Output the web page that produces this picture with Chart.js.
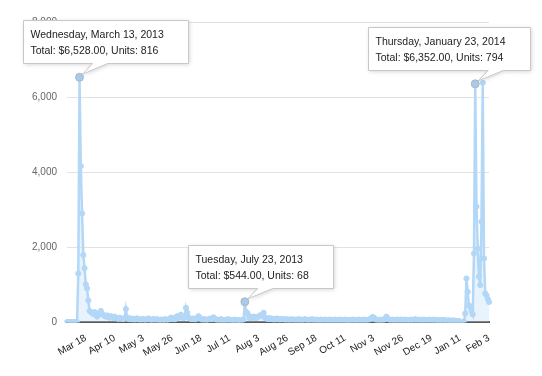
<!DOCTYPE html>
<html>
<head>
<meta charset="utf-8">
<script src="https://cdn.jsdelivr.net/npm/chart.js@4.4.1/dist/chart.umd.min.js"></script>
<style>
  body { margin: 0; background: #fff; }
</style>
</head>
<body>
<canvas id="myChart" width="542" height="376"></canvas>
<script>
// daily sales, Mar 3 2013 .. Feb 3 2014
const startDay = [2013, 2, 3];
const salesMar = [0, 0, 0, 0, 0, 0, 0, 0, 0, 1300, 6528, 4160, 2900, 1790, 1440, 1010, 900, 580, 300, 270, 250, 220, 270, 190, 150, 200, 250, 300, 220];
const salesApr = [190, 170, 150, 180, 140, 120, 160, 130, 110, 150, 120, 100, 90, 120, 100, 90, 80, 110, 350, 130, 90, 80, 100, 70, 90, 60, 80, 100, 70, 60];
const salesMay = [80, 60, 90, 70, 50, 80, 100, 70, 60, 50, 90, 70, 60, 80, 50, 60, 70, 40, 60, 80, 50, 70, 60, 90, 120, 80, 100, 70, 130, 160, 120];
const salesJun = [150, 200, 130, 110, 140, 380, 250, 130, 100, 90, 80, 100, 70, 90, 110, 160, 120, 90, 60, 70, 80, 50, 60, 80, 90, 70, 110, 130, 90, 60];
const salesJul = [70, 50, 60, 80, 60, 40, 50, 70, 60, 80, 50, 40, 60, 50, 70, 40, 50, 60, 50, 40, 60, 70, 544, 275, 240, 180, 107, 140, 120, 150, 140];
const salesAug = [110, 130, 150, 180, 180, 200, 250, 120, 100, 90, 110, 80, 100, 70, 90, 60, 80, 100, 70, 60, 80, 90, 70, 60, 80, 50, 70, 60, 80, 60, 70];
const salesSep = [60, 70, 50, 80, 60, 70, 50, 60, 80, 70, 60, 50, 70, 60, 80, 60, 50, 70, 60, 50, 60, 70, 50, 60, 70, 60, 50, 60, 70, 50];
const salesOct = [60, 50, 70, 60, 50, 60, 70, 50, 60, 50, 70, 60, 50, 60, 40, 60, 70, 50, 60, 50, 60, 70, 50, 60, 50, 70, 60, 50, 60, 70, 80];
const salesNov = [100, 140, 120, 80, 60, 70, 50, 60, 70, 50, 60, 90, 150, 110, 70, 60, 50, 70, 60, 50, 60, 70, 50, 60, 70, 50, 60, 70, 50, 60];
const salesDec = [60, 50, 70, 60, 50, 80, 60, 50, 70, 60, 50, 60, 70, 50, 60, 50, 70, 60, 50, 60, 70, 50, 60, 50, 40, 60, 50, 40, 60, 50, 40];
const salesJan = [40, 50, 30, 40, 50, 30, 40, 30, 20, 30, 10, 0, 0, 20, 230, 1165, 810, 450, 410, 300, 210, 1830, 6352, 3080, 1960, 1210, 990, 2680, 6380, 1700, 765];
const salesFeb = [720, 620, 540];

const sales = [].concat(salesMar, salesApr, salesMay, salesJun, salesJul, salesAug,
    salesSep, salesOct, salesNov, salesDec, salesJan, salesFeb);

const tickLabels = ['Mar 18', 'Apr 10', 'May 3', 'May 26', 'Jun 18', 'Jul 11', 'Aug 3', 'Aug 26',
    'Sep 18', 'Oct 11', 'Nov 3', 'Nov 26', 'Dec 19', 'Jan 11', 'Feb 3'];

// the three open tooltips
const tipIndex = [10, 142, 326];
const tipUnits = [816, 68, 794];

const dayDates = sales.map((v, i) => new Date(Date.UTC(startDay[0], startDay[1], startDay[2] + i)));
const dayLabels = dayDates.map(d => d.toLocaleDateString('en-US', { month: 'short', day: 'numeric', timeZone: 'UTC' }));

const FONT = '"Liberation Sans", Arial, sans-serif';

const tipPlugin = {
    id: 'openTips',
    afterDraw(chart) {
        const ctx = chart.ctx;
        const meta = chart.getDatasetMeta(0);
        ctx.save();
        ctx.font = '10.5px ' + FONT;
        tipIndex.forEach((idx, k) => {
            const pt = meta.data[idx];
            const px = pt.x, py = pt.y;
            const line1 = dayDates[idx].toLocaleDateString('en-US',
                { weekday: 'long', year: 'numeric', month: 'long', day: 'numeric', timeZone: 'UTC' });
            const line2 = 'Total: $' + sales[idx].toLocaleString('en-US', { minimumFractionDigits: 2 }) +
                ', Units: ' + tipUnits[k];
            const w = Math.round(Math.max(ctx.measureText(line1).width, ctx.measureText(line2).width) + 32);
            const h = 43;
            const left = Math.round(Math.min(px - 57, 530 - w)) + 0.5;
            const top = Math.round(py - 57) + 0.5;
            const bottom = top + h;

            ctx.beginPath();
            ctx.moveTo(left, top);
            ctx.lineTo(left + w, top);
            ctx.lineTo(left + w, bottom);
            ctx.lineTo(px + 28, bottom);
            ctx.lineTo(px + 3, py - 3);
            ctx.lineTo(px + 13, bottom);
            ctx.lineTo(left, bottom);
            ctx.closePath();
            ctx.shadowColor = 'rgba(0,0,0,0.18)';
            ctx.shadowBlur = 4;
            ctx.shadowOffsetX = 1;
            ctx.shadowOffsetY = 1;
            ctx.fillStyle = '#fff';
            ctx.fill();
            ctx.shadowColor = 'transparent';
            ctx.strokeStyle = '#c8c8c8';
            ctx.lineWidth = 1;
            ctx.stroke();

            ctx.fillStyle = '#222';
            ctx.textBaseline = 'alphabetic';
            ctx.textAlign = 'left';
            ctx.fillText(line1, left + 7, top + 17);
            ctx.fillText(line2, left + 7, top + 33);
        });
        ctx.restore();
    }
};

const config = {
    type: 'line',
    data: {
        labels: dayLabels,
        datasets: [{
            data: sales,
            borderColor: '#b3d7f6',
            backgroundColor: 'rgba(190, 220, 248, 0.35)',
            borderWidth: 2.5,
            fill: 'origin',
            tension: 0,
            pointBackgroundColor: ctx => tipIndex.includes(ctx.dataIndex) ? '#a8cbea' : '#b3d7f6',
            pointBorderColor: ctx => tipIndex.includes(ctx.dataIndex) ? '#a9b6c2' : '#b3d7f6',
            pointBorderWidth: 1,
            pointRadius: ctx => tipIndex.includes(ctx.dataIndex) ? 4 : 2.6
        }]
    },
    options: {
        responsive: false,
        animation: false,
        layout: { padding: { left: 22, right: 53, top: 22, bottom: 15 } },
        plugins: {
            legend: { display: false },
            tooltip: { enabled: false }
        },
        scales: {
            x: {
                grid: { display: false },
                border: { display: true, color: '#5a5a5a', width: 2 },
                ticks: {
                    autoSkip: false,
                    minRotation: 30,
                    maxRotation: 30,
                    padding: 2,
                    color: '#222',
                    font: { family: FONT, size: 10 }
                },
                afterBuildTicks: scale => {
                    scale.ticks = scale.ticks.filter(t => tickLabels.includes(dayLabels[t.value]));
                }
            },
            y: {
                min: 0,
                max: 8000,
                border: { display: false },
                grid: { color: '#e2e2e2', drawTicks: false },
                ticks: {
                    stepSize: 2000,
                    padding: 10,
                    color: '#666',
                    font: { family: FONT, size: 10 }
                }
            }
        }
    },
    plugins: [tipPlugin]
};

new Chart(document.getElementById('myChart').getContext('2d'), config);
</script>
</body>
</html>
